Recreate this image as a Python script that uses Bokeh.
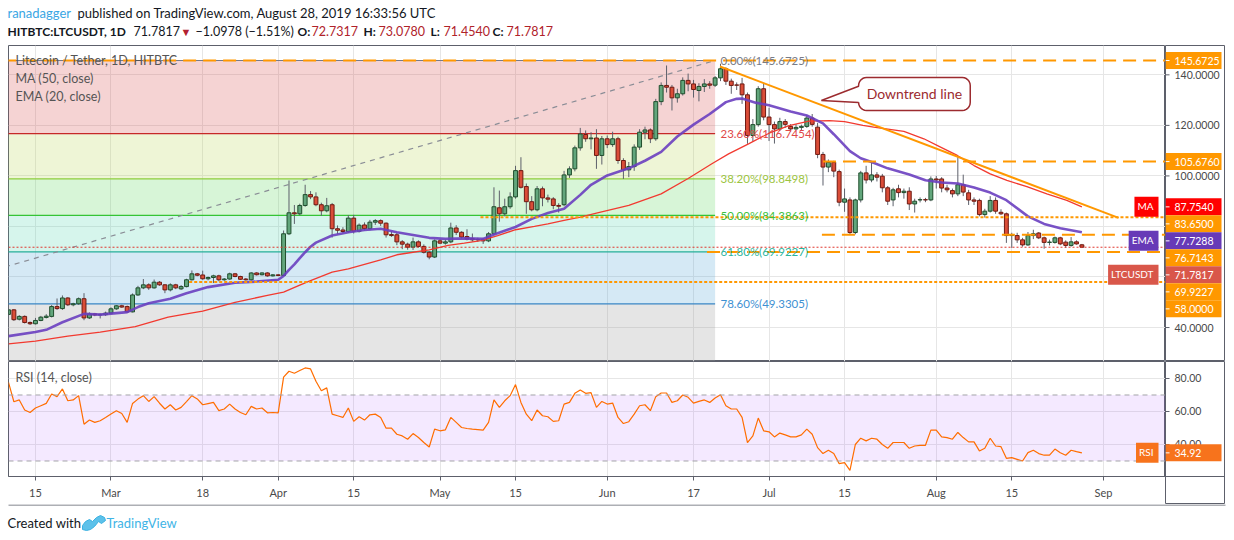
import numpy as np
from bokeh.plotting import figure
from bokeh.models import (Range1d, FixedTicker, LinearAxis, Grid, Label, Span,
                          BoxAnnotation, ColumnDataSource)
from bokeh.layouts import column, row
from bokeh.embed import file_html
from bokeh.resources import INLINE
from bokeh.core.properties import value

FONT = "Lato"

# ---------------- data (index 0 = 2019-02-10, one candle per day) ----------------
tick_pos = [5, 19, 36, 50, 64, 80, 94, 111, 127, 141, 155, 172, 186, 203]
tick_labels = ["15", "Mar", "18", "Apr", "15", "May", "15", "Jun", "17", "Jul", "15", "Aug", "15", "Sep"]

opens = [
    45.2, 47.0, 43.3, 44.4, 42.0, 41.5, 42.8, 44.0, 44.4, 48.3,
    47.5, 51.7, 49.0, 49.4, 51.4, 43.8, 45.4, 45.0, 45.1, 45.7,
    47.4, 48.6, 48.3, 46.2, 52.9, 55.7, 56.9, 55.7, 57.95, 56.9,
    54.9, 56.9, 55.3, 56.2, 58.9, 61.25, 60.8, 59.3, 59.8, 60.45,
    58.9, 59.2, 61.25, 60.2, 59.2, 58.9, 61.6, 60.9, 61.6, 60.45,
    60.85, 60.6, 77.1, 85.4, 85.0, 88.3, 92.6, 91.7, 88.6, 86.2,
    88.6, 79.1, 78.6, 78.0, 83.3, 78.1, 80.6, 79.1, 81.7, 82.3,
    81.3, 76.8, 76.7, 73.9, 73.0, 71.8, 73.9, 72.1, 69.8, 67.9,
    74.3, 73.4, 73.9, 79.4, 77.7, 76.0, 75.2, 74.9, 74.9, 74.3,
    77.1, 87.4, 85.0, 87.8, 91.7, 102.1, 95.8, 89.8, 86.6, 94.9,
    91.3, 90.9, 88.3, 88.6, 100.4, 102.8, 111.1, 116.4, 114.7, 115.0,
    108.1, 114.7, 112.4, 114.7, 106.1, 102.4, 103.7, 111.4, 117.3, 118.2,
    114.7, 129.4, 135.8, 135.1, 130.9, 132.5, 137.8, 136.4, 133.8, 135.4,
    136.4, 135.9, 138.8, 142.4, 137.5, 136.0, 136.4, 132.1, 116.0, 120.3,
    134.5, 123.3, 120.3, 118.6, 121.5, 119.6, 118.6, 119.2, 119.6, 122.9,
    119.3, 108.5, 103.5, 105.4, 101.7, 89.6, 90.5, 77.6, 90.5, 101.2,
    98.4, 100.4, 99.9, 95.3, 90.5, 94.9, 93.4, 93.95, 88.9, 90.5,
    90.6, 90.5, 98.8, 98.8, 95.2, 94.2, 92.9, 96.5, 93.3, 90.5,
    90.3, 84.7, 86.05, 90.3, 85.6, 85.0, 76.4, 76.4, 74.7, 72.7,
    76.4, 77.4, 75.5, 73.7, 73.7, 75.5, 73.8, 72.5, 73.9, 72.7317,
]
highs = [
    47.5, 47.3, 44.9, 44.8, 42.4, 43.8, 44.6, 45.3, 48.9, 51.5,
    52.7, 52.0, 49.8, 51.9, 53.6, 46.0, 45.8, 45.6, 46.3, 48.0,
    48.9, 49.0, 48.7, 53.5, 56.5, 59.2, 57.5, 59.0, 58.4, 57.2,
    57.5, 57.3, 56.8, 59.3, 62.6, 61.6, 62.5, 60.2, 60.9, 60.9,
    59.6, 61.7, 61.6, 60.5, 59.6, 61.9, 61.9, 61.9, 61.9, 61.1,
    61.1, 78.4, 98.2, 88.5, 89.0, 96.5, 94.0, 93.5, 89.4, 91.3,
    89.3, 80.4, 79.7, 84.5, 84.6, 81.2, 81.6, 82.6, 82.9, 82.8,
    81.6, 78.1, 77.5, 74.6, 73.6, 75.6, 74.5, 72.9, 70.3, 74.9,
    75.0, 74.8, 81.5, 80.5, 78.1, 78.9, 77.2, 75.5, 75.5, 77.8,
    95.5, 94.2, 91.0, 93.5, 104.0, 107.4, 97.0, 92.0, 96.0, 95.8,
    92.6, 91.6, 89.2, 102.0, 103.8, 112.0, 119.0, 118.0, 117.3, 118.5,
    115.8, 116.0, 117.5, 115.5, 107.0, 105.5, 112.5, 118.5, 119.5, 118.8,
    130.5, 137.0, 143.7, 136.0, 134.5, 139.0, 140.5, 138.0, 136.7, 138.3,
    137.5, 139.5, 144.4, 143.0, 138.5, 137.0, 138.8, 133.0, 122.5, 135.5,
    136.5, 127.0, 121.5, 123.0, 122.5, 120.5, 120.5, 120.3, 124.0, 124.5,
    121.0, 109.5, 106.5, 106.0, 102.5, 95.0, 91.5, 91.0, 102.0, 104.0,
    105.4, 101.5, 100.8, 96.0, 95.3, 96.5, 95.0, 95.5, 91.0, 91.5,
    91.3, 99.8, 100.0, 99.5, 96.5, 95.0, 107.4, 100.5, 94.5, 91.5,
    91.0, 87.0, 92.0, 91.5, 86.8, 85.5, 77.5, 77.5, 75.5, 77.8,
    78.7, 77.8, 76.0, 74.8, 76.0, 75.9, 74.5, 75.8, 74.5, 73.078,
]
lows = [
    44.8, 42.6, 42.8, 41.6, 41.0, 41.2, 42.5, 43.6, 44.0, 47.0,
    47.0, 48.5, 48.4, 49.0, 42.9, 43.4, 44.5, 43.6, 44.6, 45.4,
    47.0, 47.8, 45.8, 46.0, 52.5, 55.2, 54.9, 55.4, 56.5, 53.6,
    54.3, 55.2, 54.9, 55.9, 58.6, 60.3, 58.9, 58.7, 57.6, 58.3,
    58.5, 58.9, 59.9, 58.8, 58.6, 58.6, 60.6, 60.6, 60.1, 60.2,
    60.3, 60.3, 76.6, 81.0, 84.4, 87.8, 90.8, 88.0, 84.2, 85.6,
    75.6, 76.9, 77.3, 77.4, 77.2, 77.6, 78.4, 78.5, 80.6, 80.2,
    75.6, 75.9, 72.6, 71.0, 70.8, 70.7, 71.6, 69.3, 67.0, 67.5,
    73.0, 72.8, 73.4, 76.6, 75.2, 74.5, 74.0, 73.9, 73.1, 73.8,
    76.6, 81.9, 84.0, 87.0, 91.0, 95.0, 85.0, 86.0, 86.0, 88.0,
    89.5, 86.8, 85.5, 88.0, 99.2, 101.8, 110.0, 113.5, 110.5, 102.8,
    104.5, 111.0, 111.5, 104.8, 98.8, 99.5, 102.0, 110.3, 114.5, 113.0,
    113.9, 128.0, 133.0, 125.9, 129.0, 131.8, 133.5, 131.0, 129.5, 133.2,
    134.5, 135.2, 137.5, 136.0, 132.5, 134.0, 128.5, 112.7, 113.5, 119.5,
    122.0, 113.8, 112.8, 117.8, 119.0, 117.5, 118.0, 117.8, 119.0, 119.5,
    107.0, 96.2, 101.5, 99.5, 88.0, 85.8, 76.7, 76.9, 89.5, 97.0,
    97.5, 97.8, 93.5, 88.5, 88.0, 91.5, 91.0, 86.5, 85.5, 89.5,
    89.6, 90.0, 95.0, 93.5, 93.5, 91.5, 92.0, 92.0, 88.5, 88.5,
    84.0, 83.5, 85.5, 85.0, 84.5, 73.5, 71.5, 73.5, 72.0, 72.3,
    75.0, 75.0, 71.2, 72.5, 73.2, 72.6, 71.5, 72.0, 72.8, 71.454,
]
closes = [
    47.0, 43.1, 44.4, 42.0, 41.5, 42.8, 44.1, 44.5, 48.3, 47.5,
    51.7, 49.0, 49.4, 51.4, 43.8, 45.4, 45.0, 45.2, 45.7, 47.4,
    48.6, 48.1, 46.2, 52.9, 55.7, 56.9, 55.7, 57.95, 56.9, 54.9,
    56.9, 55.7, 56.2, 58.9, 61.25, 60.7, 59.3, 59.8, 60.45, 58.9,
    59.2, 61.25, 60.2, 59.1, 58.9, 61.6, 60.9, 61.6, 60.45, 60.85,
    60.6, 77.1, 85.4, 85.0, 88.3, 92.6, 91.7, 88.6, 86.2, 88.2,
    79.1, 78.5, 78.0, 83.3, 78.1, 80.5, 79.1, 81.7, 82.3, 81.3,
    76.7, 76.4, 73.9, 73.0, 71.8, 73.9, 72.1, 69.8, 67.9, 74.3,
    73.4, 73.9, 79.4, 77.7, 75.8, 75.0, 74.7, 74.7, 74.3, 77.1,
    87.8, 85.0, 87.8, 91.7, 102.1, 95.5, 89.8, 86.6, 94.9, 91.3,
    90.8, 88.3, 88.0, 100.4, 102.8, 111.1, 116.6, 114.7, 115.0, 108.1,
    114.7, 112.4, 114.7, 106.1, 102.4, 103.7, 111.4, 117.3, 118.2, 114.7,
    129.4, 135.8, 135.1, 130.9, 132.5, 137.8, 136.4, 134.2, 135.4, 136.4,
    135.9, 138.8, 142.4, 137.5, 135.8, 135.9, 132.1, 116.0, 120.3, 134.5,
    123.3, 120.3, 118.6, 121.5, 120.4, 118.6, 119.2, 119.6, 122.9, 120.4,
    108.5, 103.5, 105.4, 101.9, 89.6, 90.9, 77.6, 90.5, 101.2, 98.4,
    100.4, 99.5, 95.3, 90.0, 94.5, 93.4, 93.95, 88.9, 90.0, 90.6,
    90.5, 98.8, 98.4, 95.2, 94.5, 92.9, 96.5, 93.6, 90.5, 90.0,
    84.7, 86.05, 90.3, 86.05, 85.0, 76.4, 76.6, 74.7, 72.7, 76.4,
    77.1, 75.5, 73.7, 73.8, 75.5, 73.1, 72.5, 73.9, 73.1, 71.7817,
]

ma50_x = [0, 5, 11, 17, 23.5, 29.6, 33, 36, 42, 48, 51, 54, 56, 60, 63, 69, 72, 75, 78,
          81.5, 84.5, 87.6, 90.7, 94, 97.5, 100, 103, 106, 109, 115, 121, 126, 130.4,
          133.5, 137.2, 141, 144.7, 148.4, 152.2, 155, 158.4, 160.4, 166, 169.7, 172.8,
          175.9, 179, 182, 185.1, 188.8, 192.5, 196.2, 199]
ma50_y = [33.5, 34.6, 36.6, 38.2, 40.4, 44.1, 45.4, 46.5, 50.0, 52.7, 54.0, 56.8, 58.6,
          61.9, 63.2, 66.8, 68.8, 69.8, 70.7, 72.5, 73.4, 74.4, 76.4, 78.7, 80.0, 81.0,
          82.4, 83.7, 85.3, 88.3, 92.9, 99.0, 104.8, 108.7, 112.7, 116.9, 119.9, 121.7,
          121.9, 121.5, 120.0, 119.3, 117.6, 114.7, 111.4, 108.1, 104.1, 100.8, 98.2,
          95.8, 92.9, 90.3, 87.754]

ema20_x = [0, 5, 7, 10, 14, 17, 22, 24, 26, 30, 33, 37, 42, 46, 50, 51, 52, 53, 54, 55,
           56, 57, 60, 63, 66, 69, 72, 75, 78, 81, 85, 88, 90, 94, 97, 100, 103, 106,
           108, 111, 115, 118, 121, 124, 127, 130, 133, 135, 136, 138.5, 141, 145, 148,
           151, 153, 156, 158, 160, 163, 167, 170, 173, 176, 179, 182, 185, 189, 192,
           195, 199]
ema20_y = [36.6, 38.2, 39.1, 42.1, 45.4, 45.1, 46.1, 48.1, 49.6, 51.4, 53.6, 56.0, 57.7,
           58.2, 58.9, 60.4, 62.8, 65.0, 67.5, 69.8, 72.0, 73.6, 76.4, 77.7, 78.6, 79.1,
           77.7, 76.6, 75.5, 75.1, 75.3, 75.1, 76.8, 79.8, 83.0, 85.3, 87.0, 92.5, 96.5,
           100.2, 103.0, 106.0, 109.5, 115.6, 120.3, 124.5, 129.2, 130.5, 130.6, 129.0,
           128.0, 125.5, 123.9, 120.8, 116.5, 109.8, 107.0, 105.5, 103.0, 100.6, 98.3,
           97.4, 97.0, 95.4, 93.4, 90.4, 84.0, 81.0, 79.3, 77.7288]

rsi = [
    77.7, 65.9, 67.0, 60.9, 59.4, 62.1, 63.5, 64.9, 70.6, 69.0,
    73.7, 66.5, 67.0, 69.6, 52.3, 54.8, 53.4, 54.4, 56.4, 58.5,
    60.5, 58.8, 53.4, 64.9, 67.5, 69.6, 66.1, 69.0, 65.0, 61.5,
    64.1, 60.9, 62.5, 66.0, 69.6, 67.6, 64.1, 64.8, 65.5, 60.5,
    61.5, 64.5, 61.5, 59.4, 58.0, 63.1, 61.5, 62.1, 59.2, 59.4,
    59.2, 80.8, 84.4, 83.2, 84.8, 86.4, 85.8, 78.3, 72.6, 74.3,
    58.4, 57.4, 56.4, 62.1, 54.0, 56.8, 54.8, 58.0, 58.4, 56.4,
    49.9, 49.9, 46.2, 45.2, 43.2, 46.6, 44.2, 41.2, 38.5, 49.3,
    48.3, 48.9, 56.4, 53.4, 50.3, 49.7, 49.3, 49.0, 48.7, 53.4,
    67.0, 62.5, 66.5, 69.6, 76.3, 65.5, 58.4, 54.4, 60.9, 57.4,
    56.8, 54.0, 54.4, 64.5, 65.5, 71.0, 73.0, 71.0, 71.4, 62.5,
    66.1, 64.5, 65.1, 56.4, 52.7, 53.8, 58.4, 63.5, 64.1, 60.5,
    69.0, 71.2, 71.2, 65.5, 66.5, 70.0, 68.6, 65.1, 66.1, 67.0,
    65.5, 68.2, 70.2, 63.5, 61.5, 61.5, 56.4, 41.2, 45.2, 56.0,
    48.3, 47.7, 44.6, 46.9, 45.8, 44.6, 44.6, 45.8, 49.3, 46.2,
    38.1, 34.5, 36.5, 34.5, 28.4, 29.0, 24.3, 40.0, 43.8, 42.2,
    43.8, 43.2, 40.0, 37.7, 41.2, 41.2, 41.2, 37.7, 39.1, 39.5,
    39.5, 48.7, 48.7, 44.6, 44.2, 43.2, 47.3, 44.2, 41.6, 41.6,
    36.1, 37.7, 43.8, 39.1, 38.7, 31.6, 32.0, 31.0, 30.0, 35.1,
    36.5, 34.5, 33.5, 33.5, 37.2, 35.0, 33.5, 36.5, 35.7, 34.92,
]

fib_prices = [145.6725, 116.7454, 98.8498, 84.3863, 69.9227, 49.3305, 23.1001]
fib_texts = ["0.00%(145.6725)", "23.60%(116.7454)", "38.20%(98.8498)",
             "50.00%(84.3863)", "61.80%(69.9227)", "78.60%(49.3305)"]
fib_anchor_x = [-66.5, 131.0]
fib_anchor_y = [23.1001, 145.6725]

hline_prices = [145.6725, 105.676, 83.65, 76.7143, 69.9227, 58.0]
hline_start = [-1.0, 151.0, 87.5, 150.8, 129.5, 33.5]
hline_dash = ["13 7", "13 7", "3 2", "13 7", "13 7", "3 2"]

trend_x = [131.9, 205.8]
trend_y = [143.3, 83.4]

rsi_bands = [70, 30]
price_ticks = [40, 100, 120, 140]
rsi_ticks = [40, 60, 80]
last_price = 71.7817
ma_last = 87.7540
ema_last = 77.7288
rsi_last = 34.92

# price-scale tags: (value, tag name or None, colour)
ORANGE = "#ff9800"
scale_tags = [(145.6725, None, ORANGE), (105.676, None, ORANGE), (ma_last, "MA", "#ff0000"),
              (83.65, None, ORANGE), (ema_last, "EMA", "#673ab7"), (76.7143, None, ORANGE),
              (last_price, "LTCUSDT", "#d9574a"), (69.9227, None, ORANGE), (58.0, None, ORANGE)]

# ---------------- layout constants ----------------
FRAME_W = 1157
AX_W = 60
X0, X1 = 0.0, 214.5
PXD = FRAME_W / (X1 - X0)
PRICE_H = 316
Y0, Y1 = 26.56, 151.61
PYD = PRICE_H / (Y1 - Y0)
RSI_H = 115
TAX_H = 28
R0, R1 = 20.6, 90.3
RPD = RSI_H / (R1 - R0)
TAG_H = 17  # px height of a price-scale tag

def dx(page_x):
    return X0 + (page_x - 8) / PXD

def py(page_y):
    return Y1 - (page_y - 45) / PYD

def ry(page_y):
    return R1 - (page_y - 361) / RPD

MA_COL = "#f23a30"
EMA_COL = "#6a3fc0"
AXIS_COL = "#5d606b"
TXT = "#4a4a4a"
GRID_COL = "#e6e6e6"

def base_fig(fw, fh, xr, yr, **kw):
    f = figure(frame_width=fw, frame_height=fh, x_range=xr, y_range=yr,
               x_axis_type=None, y_axis_type=None, toolbar_location=None,
               output_backend="svg", **kw)
    f.background_fill_color = "white"
    f.border_fill_color = "white"
    return f

# stacked positions of the price-scale tags (TradingView pushes overlapping tags down)
gap = TAG_H / PYD
tag_y = []
for v, _, _ in scale_tags:
    yv = v if not tag_y else min(v, tag_y[-1] - gap)
    tag_y.append(yv)

# ---------------- header ----------------
HDR_H = 44
hdr = base_fig(1234, HDR_H, Range1d(0, 1234), Range1d(0, HDR_H),
               min_border_left=0, min_border_right=0, min_border_top=0, min_border_bottom=0)
hdr.outline_line_color = None
hsrc = ColumnDataSource(dict(
    x=[7, 77, 7, 133, 180, 195, 297, 311, 363, 378, 430, 443, 492, 506],
    y=[31.8, 31.8] + [13.5] * 12,
    text=["ranadagger", "published on TradingView.com, August 28, 2019 16:33:56 UTC",
          "HITBTC:LTCUSDT, 1D", "71.7817", "\u25bc", "\u22121.0978 (\u22121.51%)",
          "O:", "72.7317", "H:", "73.0780", "L:", "71.4540", "C:", "71.7817"],
    color=["#3aa6e4", "#131722", "#131722", "#131722", "#b22030", "#131722",
           "#131722", "#b0222a", "#131722", "#b0222a", "#131722", "#b0222a", "#131722", "#b0222a"],
    style=["normal", "normal", "bold", "normal", "normal", "normal",
           "bold", "normal", "bold", "normal", "bold", "normal", "bold", "normal"],
    size=["13px", "13px", "12px", "12.5px", "11px", "12.5px", "12px", "12.5px",
          "12px", "12.5px", "12px", "12.5px", "12px", "12.5px"],
))
hdr.text(x="x", y="y", text="text", text_color="color", text_font_style="style",
         text_font_size="size", text_font=value(FONT), text_baseline="middle",
         text_align="left", source=hsrc)

# ---------------- price pane ----------------
p = base_fig(FRAME_W, PRICE_H, Range1d(X0, X1), Range1d(Y0, Y1),
             min_border_left=8, min_border_right=0, min_border_top=1, min_border_bottom=0)
p.outline_line_color = AXIS_COL
p.add_layout(Grid(dimension=0, ticker=FixedTicker(ticks=tick_pos), grid_line_color=GRID_COL))
p.add_layout(Grid(dimension=1, ticker=FixedTicker(ticks=[40, 60, 80, 100, 120, 140]),
                  grid_line_color=GRID_COL))

# fibonacci retracement
zone_base = ["#d74f4f", "#bbd75b", "#5fd75f", "#5bd7b3", "#57a7d7", "#979797"]
p.quad(left=[-1.0] * 6, right=[fib_anchor_x[1]] * 6, top=fib_prices[:-1], bottom=fib_prices[1:],
       fill_color=zone_base, fill_alpha=0.25, line_color=None)
fib_line_cols = ["#787b86", "#c62828", "#8fce3d", "#35c435", "#26ae9a", "#3a86c4"]
for lv, col in zip(fib_prices[:-1], fib_line_cols):
    p.line([-1.0, fib_anchor_x[1]], [lv, lv], line_color=col, line_width=1.2)
p.line(fib_anchor_x, fib_anchor_y, line_color="#8a8d96", line_width=1.2, line_dash="5 5")

# candles
up = [c >= o for o, c in zip(opens, closes)]
csrc = ColumnDataSource(dict(
    x=list(range(len(closes))), h=highs, l=lows,
    top=[max(o, c) for o, c in zip(opens, closes)],
    bot=[min(o, c) for o, c in zip(opens, closes)],
    fill=["#62a67c" if u else "#da4d38" for u in up],
    edge=["#1f4d2c" if u else "#6e1a12" for u in up],
))
p.segment(x0="x", y0="h", x1="x", y1="l", line_color="#5d606b", line_width=1, source=csrc)
p.vbar(x="x", width=0.72, top="top", bottom="bot", fill_color="fill",
       line_color="edge", line_width=1, source=csrc)

# moving averages
p.line(ma50_x, ma50_y, line_color=MA_COL, line_width=1.3)
p.line(ema20_x, ema20_y, line_color=EMA_COL, line_width=2.6, line_alpha=0.9)

# analyst drawings
for lv, st, ds in zip(hline_prices, hline_start, hline_dash):
    p.line([st, X1 + 1], [lv, lv], line_color=ORANGE, line_width=2, line_dash=ds)
p.line(trend_x, trend_y, line_color=ORANGE, line_width=2)
p.add_layout(Span(location=last_price, dimension="width", line_color="#e0362d",
                  line_dash="2 2", line_width=1))

# callout "Downtrend line"
bx0, bx1, by0, by1 = 157.6, 178.3, 125.9, 138.95
rx, rr = 1.48, 3.17
cx, cy = [bx0], [135.5]
for (ccx, ccy, a0, a1) in [(bx0 + rx, by1 - rr, np.pi, np.pi / 2), (bx1 - rx, by1 - rr, np.pi / 2, 0),
                           (bx1 - rx, by0 + rr, 0, -np.pi / 2), (bx0 + rx, by0 + rr, -np.pi / 2, -np.pi)]:
    for a in np.linspace(a0, a1, 7):
        cx.append(ccx + rx * np.cos(a))
        cy.append(ccy + rr * np.sin(a))
cx += [bx0, 150.7]
cy += [129.05, 129.84]
p.patch(cx, cy, fill_color="white", line_color="#9c2b2f", line_width=1.5)
p.text(x=[(bx0 + bx1) / 2], y=[(by0 + by1) / 2], text=["Downtrend line"], text_align="center",
       text_baseline="middle", text_font=value(FONT), text_font_size="14px", text_color="#9c2b2f")

# fib labels
fib_txt_cols = ["#787b86", "#e04848", "#9cc440", "#3cbf3c", "#2bb59c", "#3d90d2"]
p.text(x=[dx(720)] * 6, y=fib_prices[:-1], text=fib_texts, text_color=fib_txt_cols,
       text_font=value(FONT), text_font_size="11.5px", text_baseline="middle", text_align="left")

# legend texts
for t, yy in [("Litecoin / Tether, 1D, HITBTC", 60), ("MA (50, close)", 78), ("EMA (20, close)", 96)]:
    p.add_layout(Label(x=dx(15), y=py(yy), text=t, text_font=FONT, text_font_size="12.5px",
                       text_color="#555555", text_baseline="middle", text_align="left"))

# name tags just left of the price scale
for (v, name, col), yv in zip(scale_tags, tag_y):
    if name:
        p.add_layout(Label(x=dx(1158), y=yv, text=name, text_font=FONT, text_font_size="10px",
                           text_color="white", text_baseline="middle", text_align="right",
                           background_fill_color=col, padding=(3, 5, 3, 5)))

# ---------------- price scale (right) ----------------
pa = base_fig(AX_W, PRICE_H, Range1d(0, AX_W), p.y_range,
              min_border_left=0, min_border_right=0, min_border_top=1, min_border_bottom=0)
pa.outline_line_color = AXIS_COL
pa.segment(x0=[0] * len(price_ticks), x1=[4] * len(price_ticks), y0=price_ticks, y1=price_ticks,
           line_color=AXIS_COL, line_width=1)
pa.text(x=[9] * len(price_ticks), y=price_ticks, text=[f"{t:.4f}" for t in price_ticks],
        text_color=TXT, text_font=value(FONT), text_font_size="10.5px",
        text_baseline="middle", text_align="left")
pa.rect(x=[28] * len(tag_y), y=tag_y, width=56, height=TAG_H, width_units="screen",
        height_units="screen", fill_color=[c for _, _, c in scale_tags], line_color=None)
pa.segment(x0=[0] * len(tag_y), x1=[4] * len(tag_y), y0=tag_y, y1=tag_y,
           line_color="white", line_width=1)
pa.text(x=[9] * len(tag_y), y=tag_y, text=[f"{v:.4f}" for v, _, _ in scale_tags],
        text_color="white", text_font=value(FONT), text_font_size="10.5px",
        text_baseline="middle", text_align="left")

# ---------------- RSI pane ----------------
q = base_fig(FRAME_W, RSI_H, p.x_range, Range1d(R0, R1),
             min_border_left=8, min_border_right=0, min_border_top=0, min_border_bottom=TAX_H)
q.outline_line_color = AXIS_COL
q.add_layout(Grid(dimension=0, ticker=FixedTicker(ticks=tick_pos), grid_line_color=GRID_COL))
q.add_layout(Grid(dimension=1, ticker=FixedTicker(ticks=rsi_ticks), grid_line_color=GRID_COL))
q.add_layout(BoxAnnotation(bottom=rsi_bands[1], top=rsi_bands[0], fill_color="#a64dff",
                           fill_alpha=0.12, line_color=None, level="underlay"))
for b in rsi_bands:
    q.add_layout(Span(location=b, dimension="width", line_color="#a3a3a8",
                      line_dash="5 4", line_width=1))
q.line(list(range(len(rsi))), rsi, line_color="#ff6d00", line_width=1.2)

xax = LinearAxis(ticker=FixedTicker(ticks=tick_pos),
                 major_label_overrides={t: l for t, l in zip(tick_pos, tick_labels)})
xax.major_label_text_font = FONT
xax.major_label_text_color = TXT
xax.major_label_text_font_size = "11px"
xax.major_label_standoff = 5
xax.major_tick_in = 0
xax.major_tick_out = 4
xax.minor_tick_out = 0
xax.minor_tick_in = 0
xax.axis_line_color = AXIS_COL
xax.major_tick_line_color = AXIS_COL
q.add_layout(xax, "below")

q.add_layout(Label(x=dx(15), y=ry(377), text="RSI (14, close)", text_font=FONT,
                   text_font_size="12.5px", text_color="#555555", text_baseline="middle"))
q.add_layout(Label(x=dx(1158), y=rsi_last, text="RSI", text_font=FONT, text_font_size="10px",
                   text_color="white", text_baseline="middle", text_align="right",
                   background_fill_color="#f7731c", padding=(3, 5, 3, 5)))

# ---------------- RSI scale (right) ----------------
RA0 = R0 - TAX_H / RPD
qa = base_fig(AX_W, RSI_H + TAX_H, Range1d(0, AX_W), Range1d(RA0, R1),
              min_border_left=0, min_border_right=0, min_border_top=0, min_border_bottom=0)
qa.outline_line_color = AXIS_COL
qa.line([0, AX_W], [R0, R0], line_color=AXIS_COL, line_width=1)
qa.segment(x0=[0] * len(rsi_ticks), x1=[4] * len(rsi_ticks), y0=rsi_ticks, y1=rsi_ticks,
           line_color=AXIS_COL, line_width=1)
qa.text(x=[9] * len(rsi_ticks), y=rsi_ticks, text=[f"{t:.2f}" for t in rsi_ticks],
        text_color=TXT, text_font=value(FONT), text_font_size="10.5px",
        text_baseline="middle", text_align="left")
qa.rect(x=[28], y=[rsi_last], width=56, height=TAG_H, width_units="screen",
        height_units="screen", fill_color="#f7731c", line_color=None)
qa.segment(x0=[0], x1=[4], y0=[rsi_last], y1=[rsi_last], line_color="white", line_width=1)
qa.text(x=[9], y=[rsi_last], text=[f"{rsi_last:.2f}"], text_color="white",
        text_font=value(FONT), text_font_size="10.5px", text_baseline="middle", text_align="left")

# ---------------- footer ----------------
FTR_H = 28
ftr = base_fig(1234, FTR_H, Range1d(0, 1234), Range1d(0, FTR_H),
               min_border_left=0, min_border_right=0, min_border_top=0, min_border_bottom=0)
ftr.outline_line_color = None
ftr.line([8, 1225], [27.5, 27.5], line_color=AXIS_COL, line_width=1)
ftr.text(x=[7, 106], y=[9.5, 9.5], text=["Created with", "TradingView"],
         text_color=["#131722", "#40b4e6"], text_font=value(FONT), text_font_size="13px",
         text_baseline="middle", text_align="left")
logo_x = [82, 82, 85, 89, 92, 96, 100, 104, 105, 101, 98, 94, 90, 86]
logo_y = [3, 7, 11, 13, 11, 15, 17, 15, 12, 9, 11, 6, 3, 2]
ftr.patch(logo_x, logo_y, fill_color="#5cc1ea", line_color="#3bb0e0", line_width=1)

layout = column(hdr, row(p, pa, spacing=0), row(q, qa, spacing=0), ftr, spacing=0)
open("out.html", "w").write(file_html(layout, INLINE))
